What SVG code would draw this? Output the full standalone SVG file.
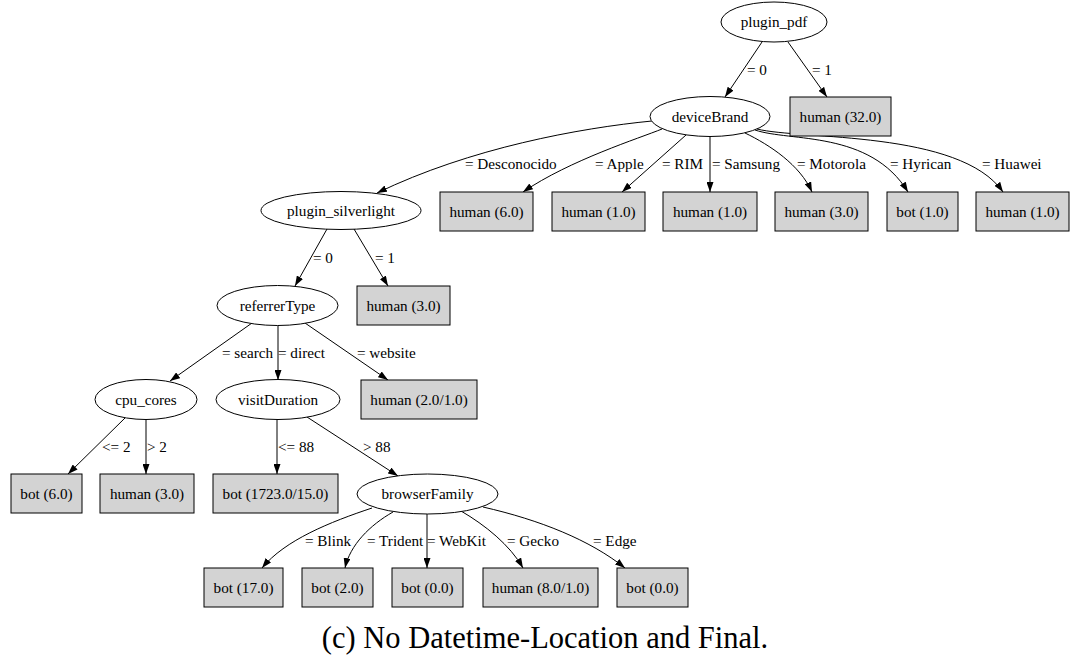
<svg xmlns="http://www.w3.org/2000/svg" width="1070" height="656" viewBox="0 0 1070 656" font-family="'Liberation Serif', 'DejaVu Serif', serif">
  <style>
    .n ellipse { fill: #ffffff; stroke: #000000; stroke-width: 1; }
    .n rect { fill: #d3d3d3; stroke: #000000; stroke-width: 1; }
    text { font-family: 'Liberation Serif', 'DejaVu Serif', serif; font-size: 15.2px; fill: #000000; }
    .n text { text-anchor: middle; }
    #edges path { fill: none; stroke: #000000; stroke-width: 1; marker-end: url(#arrow); }
    .cap { font-size: 30.5px; text-anchor: middle; }
  </style>
  <defs>
    <marker id="arrow" markerUnits="userSpaceOnUse" viewBox="0 0 10 7" markerWidth="10" markerHeight="7" refX="10" refY="3.5" orient="auto">
      <path d="M0,0 L10,3.5 L0,7 Z" fill="#000000"/>
    </marker>
  </defs>
  <rect width="1070" height="656" fill="#ffffff"/>

  <!-- connectors and their labels -->
  <g id="edges">
    <path d="M762,42 L725,97"/>
    <path d="M788,42 L827,97"/>
    <path d="M652,121 C580,128 470,148 377,193"/>
    <path d="M662,129 C640,138 570,160 523,192"/>
    <path d="M686,135 L622,192"/>
    <path d="M710,136.5 L710,192"/>
    <path d="M745,133 C770,145 800,165 812,192"/>
    <path d="M755,130 C790,142 870,130 908,192"/>
    <path d="M757,129 C800,140 960,130 1003,192"/>
    <path d="M327,229 L295,286"/>
    <path d="M354,229 L388,286"/>
    <path d="M252,323 L170,381"/>
    <path d="M278,325.5 L278,380"/>
    <path d="M305,323 L388,380"/>
    <path d="M125,418 L68,474"/>
    <path d="M146,419.5 L146,474"/>
    <path d="M277,419.5 L277,474"/>
    <path d="M307,417 L398,476"/>
    <path d="M372,508 C330,522 285,540 262,568"/>
    <path d="M393,512 C370,525 350,545 345,568"/>
    <path d="M427,514 L427,568"/>
    <path d="M461,511 C485,525 510,545 523,568"/>
    <path d="M483,507 C540,520 590,540 625,568"/>

    <text x="747" y="75">= 0</text>
    <text x="812" y="75">= 1</text>
    <text x="465" y="169">= Desconocido</text>
    <text x="595" y="169">= Apple</text>
    <text x="662" y="169">= RIM</text>
    <text x="712" y="169">= Samsung</text>
    <text x="797" y="169">= Motorola</text>
    <text x="890" y="169">= Hyrican</text>
    <text x="982" y="169">= Huawei</text>
    <text x="313" y="263">= 0</text>
    <text x="375" y="263">= 1</text>
    <text x="222" y="358">= search</text>
    <text x="278" y="358">= direct</text>
    <text x="357" y="358">= website</text>
    <text x="102" y="452">&lt;= 2</text>
    <text x="147" y="452">&gt; 2</text>
    <text x="278" y="452">&lt;= 88</text>
    <text x="363" y="452">&gt; 88</text>
    <text x="305" y="546">= Blink</text>
    <text x="367" y="546">= Trident</text>
    <text x="427" y="546">= WebKit</text>
    <text x="507" y="546">= Gecko</text>
    <text x="593" y="546">= Edge</text>
  </g>

  <!-- decision nodes -->
  <g id="plugin_pdf" class="n"><ellipse cx="774" cy="22" rx="53" ry="20"/><text x="774" y="27">plugin_pdf</text></g>
  <g id="deviceBrand" class="n"><ellipse cx="710" cy="116.5" rx="60" ry="20"/><text x="710" y="121.5">deviceBrand</text></g>
  <g id="plugin_silverlight" class="n"><ellipse cx="341" cy="210.5" rx="80" ry="19"/><text x="341" y="215.5">plugin_silverlight</text></g>
  <g id="referrerType" class="n"><ellipse cx="277.5" cy="305.5" rx="60.5" ry="20"/><text x="277.5" y="310.5">referrerType</text></g>
  <g id="cpu_cores" class="n"><ellipse cx="146" cy="399.5" rx="51" ry="20"/><text x="146" y="404.5">cpu_cores</text></g>
  <g id="visitDuration" class="n"><ellipse cx="278" cy="399.5" rx="62" ry="20"/><text x="278" y="404.5">visitDuration</text></g>
  <g id="browserFamily" class="n"><ellipse cx="427.5" cy="494" rx="70.5" ry="20"/><text x="427.5" y="499">browserFamily</text></g>

  <!-- leaf nodes -->
  <g id="leaf_pdf1" class="n"><rect x="790" y="97" width="101" height="39"/><text x="840.5" y="121.5">human (32.0)</text></g>
  <g id="leaf_apple" class="n"><rect x="440" y="192" width="93" height="39"/><text x="486.5" y="216.5">human (6.0)</text></g>
  <g id="leaf_rim" class="n"><rect x="552" y="192" width="93" height="39"/><text x="598.5" y="216.5">human (1.0)</text></g>
  <g id="leaf_samsung" class="n"><rect x="663" y="192" width="94" height="39"/><text x="710" y="216.5">human (1.0)</text></g>
  <g id="leaf_motorola" class="n"><rect x="775" y="192" width="93" height="39"/><text x="821.5" y="216.5">human (3.0)</text></g>
  <g id="leaf_hyrican" class="n"><rect x="887" y="192" width="71" height="39"/><text x="922.5" y="216.5">bot (1.0)</text></g>
  <g id="leaf_huawei" class="n"><rect x="976" y="192" width="93" height="39"/><text x="1022.5" y="216.5">human (1.0)</text></g>
  <g id="leaf_silverlight1" class="n"><rect x="357" y="286" width="93" height="39"/><text x="403.5" y="310.5">human (3.0)</text></g>
  <g id="leaf_website" class="n"><rect x="361" y="380" width="116" height="39"/><text x="419" y="404.5">human (2.0/1.0)</text></g>
  <g id="leaf_cpu_le2" class="n"><rect x="11" y="474" width="71" height="39"/><text x="46.5" y="498.5">bot (6.0)</text></g>
  <g id="leaf_cpu_gt2" class="n"><rect x="100" y="474" width="94" height="39"/><text x="147" y="498.5">human (3.0)</text></g>
  <g id="leaf_visit_le88" class="n"><rect x="213" y="474" width="125" height="39"/><text x="275.5" y="498.5">bot (1723.0/15.0)</text></g>
  <g id="leaf_blink" class="n"><rect x="204" y="568" width="79" height="39"/><text x="243.5" y="592.5">bot (17.0)</text></g>
  <g id="leaf_trident" class="n"><rect x="302" y="568" width="71" height="39"/><text x="337.5" y="592.5">bot (2.0)</text></g>
  <g id="leaf_webkit" class="n"><rect x="392" y="568" width="71" height="39"/><text x="427.5" y="592.5">bot (0.0)</text></g>
  <g id="leaf_gecko" class="n"><rect x="483" y="568" width="115" height="39"/><text x="540.5" y="592.5">human (8.0/1.0)</text></g>
  <g id="leaf_edge" class="n"><rect x="617" y="568" width="71" height="39"/><text x="652.5" y="592.5">bot (0.0)</text></g>

  <text class="cap" x="545" y="648">(c) No Datetime-Location and Final.</text>
</svg>
